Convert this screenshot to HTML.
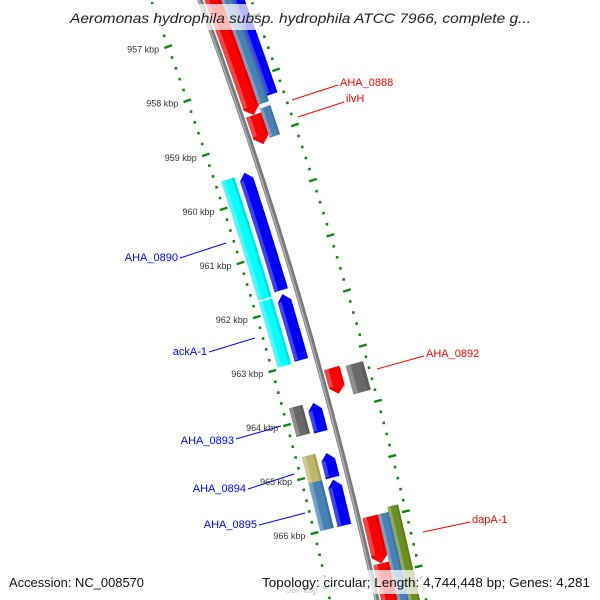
<!DOCTYPE html>
<html><head><meta charset="utf-8"><style>
html,body{margin:0;padding:0;background:#fff;width:600px;height:600px;overflow:hidden;}
svg{display:block;font-family:"Liberation Sans",sans-serif;}
</style></head><body>
<svg id="map" width="600" height="600" viewBox="0 0 600 600" xmlns="http://www.w3.org/2000/svg" overflow="hidden">
<defs><clipPath id="frame"><rect x="0" y="0" width="600" height="600"/></clipPath></defs>
<g clip-path="url(#frame)">
<g id="rings"></g>
<g id="backbone"></g>
<g id="feats"></g>
<g id="labels"></g>
<g id="ticks"></g>
<g>
<rect x="62" y="4" width="476" height="26" fill="#fff" fill-opacity="0.72"/>
<text x="70" y="23" textLength="461" lengthAdjust="spacingAndGlyphs" font-size="14" font-style="italic" fill="#222">Aeromonas hydrophila subsp. hydrophila ATCC 7966, complete g...</text>
</g>
<g>
<rect x="4" y="570" width="150" height="24" fill="#fff" fill-opacity="0.72"/>
<rect x="256" y="570" width="340" height="24" fill="#fff" fill-opacity="0.72"/>
<text x="9" y="587" textLength="135" lengthAdjust="spacingAndGlyphs" font-size="12.5" fill="#111">Accession: NC_008570</text>
<text x="262" y="587" textLength="328" lengthAdjust="spacingAndGlyphs" font-size="12.5" fill="#111">Topology: circular; Length: 4,744,448 bp; Genes: 4,281</text>
</g>
</g>
</svg>
<script>
// data
const tickKbp = [957,958,959,960,961,962,963,964,965,966,967];
const featStart = [956.18,958.61,956.18,958.54,956.18,963.23,963.26,965.94,966.80,965.94,965.85,959.53,959.51,961.76,961.74,963.72,963.74,964.62,964.66,965.11,965.15];
const featEnd   = [958.61,959.14,958.47,959.07,958.37,963.70,963.78,966.80,967.90,968.00,968.00,961.73,961.67,962.97,962.95,964.25,964.27,965.13,965.11,965.99,965.99];
const featStrand= [1,1,0,0,0,1,0,1,1,0,0,0,-1,0,-1,0,-1,0,-1,0,-1];
const featColor = ["#ff0000","#ff0000","#4682b4","#4682b4","#0000ff","#ff0000","#696969","#ff0000","#ff0000","#4682b4","#6b8e23","#00ffff","#0000ff","#00ffff","#0000ff","#696969","#0000ff","#bdb76b","#0000ff","#4682b4","#0000ff"];
const featTrack = [0,0,1,1,2,0,3,0,0,1,2,4,5,4,5,4,5,4,5,4,5];
const featName = ["AHA_0888","ilvH","","","","AHA_0892","","dapA-1","","","","AHA_0890","","ackA-1","","AHA_0893","","AHA_0894","","AHA_0895",""];
const trackO1 = [4,20,31,26,-40,-22];
const trackO2 = [20,31,42,44,-26,-8];

const NS="http://www.w3.org/2000/svg";
function X(p){return 200+0.37*p-0.000125*p*p;}
function pt(p,o){const s=0.37-0.00025*p;const n=Math.sqrt(1+s*s);return [X(p)+o/n,p-o*s/n];}
function P(k){return 31+(k-957)*54.6;}
function mk(tag,attrs,parent){const e=document.createElementNS(NS,tag);for(const k in attrs)e.setAttribute(k,attrs[k]);parent.appendChild(e);return e;}
function poly(list){return list.map(q=>q[0].toFixed(1)+","+q[1].toFixed(1)).join(" ");}

// rings
const rings=document.getElementById('rings');
[-46,48].forEach(o=>{
  for(let k=955;k<=968.5;k+=0.2){
    const kk=Math.round(k*10)/10;
    const p=P(kk);
    const major=Math.abs(kk-Math.round(kk))<0.01;
    if(major){
      const a=pt(p,o-4),b=pt(p,o+4);
      const l=mk('line',{x1:a[0],y1:a[1],x2:b[0],y2:b[1],stroke:'#118811','stroke-width':2.4},rings);
      
      
    } else {
      const c=pt(p,o);
      const r=mk('rect',{x:c[0]-1.3,y:c[1]-1.3,width:2.6,height:2.6,fill:'#118811'},rings);
      
      
    }
  }
});

// backbone
const bb=document.getElementById('backbone');
let pts=[];for(let p=-20;p<=620;p+=5)pts.push(pt(p,0));
mk('polyline',{points:poly(pts),fill:'none',stroke:'#7a7a7a','stroke-width':5},bb);
pts=[];for(let p=-20;p<=620;p+=5)pts.push(pt(p,-1));
mk('polyline',{points:poly(pts),fill:'none',stroke:'#b0b0b0','stroke-width':1.5},bb);

// features
const fg=document.getElementById('feats');
for(let i=0;i<featStart.length;i++){
  const a=P(featStart[i]),b=P(featEnd[i]);
  const o1=trackO1[featTrack[i]],o2=trackO2[featTrack[i]];
  const st=featStrand[i];const h=7;
  const ba=st<0?a+h:a, bbE=st>0?b-h:b;
  const left=[],right=[];
  for(let p=ba;p<=bbE;p+=2){left.push(pt(p,o1));right.push(pt(p,o2));}
  left.push(pt(bbE,o1));right.push(pt(bbE,o2));
  let shape=[];
  if(st<0)shape.push(pt(a,(o1+o2)/2));
  shape=shape.concat(left);
  if(st>0)shape.push(pt(b,(o1+o2)/2));
  shape=shape.concat(right.reverse());
  const g=mk('g',{},fg);
  
  
  mk('polygon',{points:poly(shape),fill:featColor[i]},g);
  const w=o2-o1;
  const l1=[],l2=[],d1=[],d2=[];
  for(let p=ba;p<=bbE;p+=2){l1.push(pt(p,o1));l2.push(pt(p,o1+w*0.28));d1.push(pt(p,o2-w*0.18));d2.push(pt(p,o2));}
  mk('polygon',{points:poly(l1.concat(l2.reverse())),fill:'#fff','fill-opacity':0.25},g);
  mk('polygon',{points:poly(d1.concat(d2.reverse())),fill:'#000','fill-opacity':0.12},g);
}

// feature labels
const labX=[340,346,426,472,178,207,234,246,257];
const labY=[86,102,357,523,261,355,444,492,528];
const labText=["AHA_0888","ilvH","AHA_0892","dapA-1","AHA_0890","ackA-1","AHA_0893","AHA_0894","AHA_0895"];
const labLine=[[292,100,338,85],[298,117,344,102],[377,369,424,356],[423,532,470,522],[180,258,226,243],[209,352,255,338],[236,439,281,426],[248,489,294,474],[259,525,305,513]];
const lg=document.getElementById('labels');
for(let i=0;i<labText.length;i++){
  const right=i<4;const col=right?'#ff0000':'#0000ff';
  const L=labLine[i];
  const ln=mk('line',{x1:L[0],y1:L[1],x2:L[2],y2:L[3],stroke:col,'stroke-width':1},lg);
  
  
  const t=mk('text',{x:labX[i],y:labY[i],'font-size':11,fill:col,'text-anchor':right?'start':'end'},lg);
  t.textContent=labText[i];
  
  
}

// tick labels
const tg=document.getElementById('ticks');
tickKbp.forEach(k=>{
  const c=pt(P(k),-46);
  const t=mk('text',{x:c[0]-9,y:c[1]+6,'font-size':9,fill:'#333','text-anchor':'end'},tg);
  t.textContent=k+' kbp';
  
  
});
</script>
</body></html>
